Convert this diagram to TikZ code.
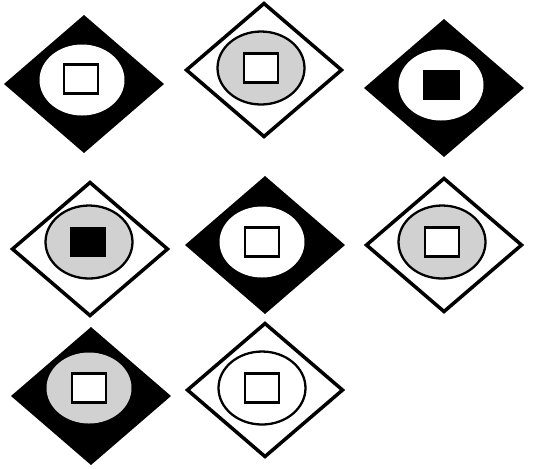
\documentclass[tikz,border=0pt]{standalone}
\usetikzlibrary{shapes.geometric}

\begin{document}
\begin{tikzpicture}[
    x=0.02cm, y=-0.02cm,
    blackdia/.style={diamond, fill=black, minimum width=3.2cm, minimum height=2.76cm,
                 inner sep=0pt, outer sep=0pt},
    whitedia/.style={diamond, draw=black, line width=2pt, fill=white,
                 minimum width=3.13cm, minimum height=2.69cm, inner sep=0pt},
    blank/.style={ellipse, fill=white, minimum width=1.7cm, minimum height=1.42cm,
                 inner sep=0pt},
    speckled/.style={blank, fill=black!18},
    ringed/.style={ellipse, draw=black, line width=1.3pt, fill=white,
                 minimum width=1.74cm, minimum height=1.46cm, inner sep=0pt},
    speckring/.style={ringed, fill=black!18},
    hollow/.style={rectangle, draw=black, line width=1.4pt, fill=white,
                 minimum width=0.68cm, minimum height=0.58cm, inner sep=0pt},
    filledsq/.style={rectangle, fill=black, minimum width=0.74cm, minimum height=0.6cm,
                 inner sep=0pt},
  ]
    \useasboundingbox (0,0) rectangle (536,468);

    % top row
    \node[blackdia] (d1) at (84,84) {};
    \node[blank] (e1) at (82,80) {};
    \node[hollow] (q1) at (81,79) {};

    \node[whitedia] (d2) at (264,70) {};
    \node[speckring] (e2) at (261,68) {};
    \node[hollow] (q2) at (261,68) {};

    \node[blackdia] (d3) at (444,88) {};
    \node[blank] (e3) at (441,85) {};
    \node[filledsq] (q3) at (441,85) {};

    % middle row
    \node[whitedia] (d4) at (90,249) {};
    \node[speckring] (e4) at (89,242) {};
    \node[filledsq] (q4) at (88,242) {};

    \node[blackdia] (d5) at (265,245) {};
    \node[blank] (e5) at (262,242) {};
    \node[hollow] (q5) at (262,242) {};

    \node[whitedia] (d6) at (444,245) {};
    \node[speckring] (e6) at (442,242) {};
    \node[hollow] (q6) at (442,242) {};

    % bottom row
    \node[blackdia] (d7) at (91,396) {};
    \node[speckled] (e7) at (89,388) {};
    \node[hollow] (q7) at (89,388) {};

    \node[whitedia] (d8) at (265,390) {};
    \node[ringed] (e8) at (262,388) {};
    \node[hollow] (q8) at (262,388) {};
  \end{tikzpicture}
\end{document}
